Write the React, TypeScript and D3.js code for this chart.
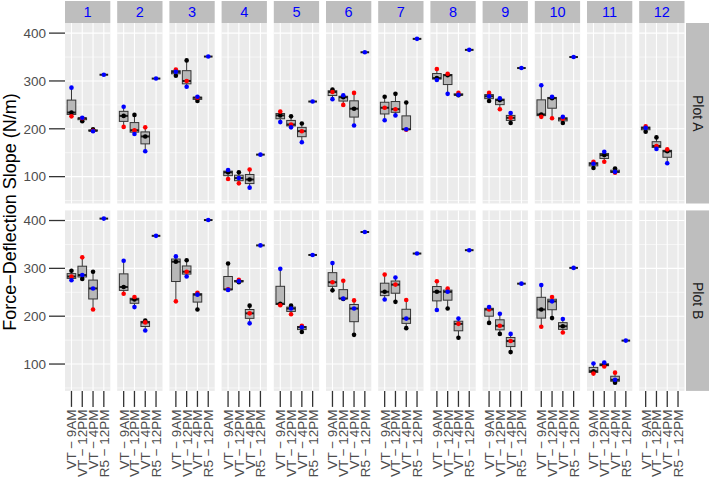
import React from 'react';
import * as d3 from 'd3';

const sites = ['1', '2', '3', '4', '5', '6', '7', '8', '9', '10', '11', '12'];
const rows = ['Plot A', 'Plot B'];
const times = ['VT − 9AM', 'VT − 12PM', 'VT − 4PM', 'R5 − 12PM'];
const yTicks = [100, 200, 300, 400];
const yMinor = [50, 150, 250, 350];

// values for [VT-9AM, VT-12PM, VT-4PM] per site
const plotABlack = [[234, 216, 199], [227, 229, 184], [311, 343, 258], [109, 109, 94], [228, 226, 211], [282, 266, 242], [267, 273, 255], [306, 312, 270], [258, 260, 212], [230, 264, 212], [118, 145, 117], [194, 182, 153]];
const plotARed = [[226, 222, 196], [204, 197, 203], [324, 300, 265], [95, 86, 115], [236, 209, 195], [277, 250, 275], [244, 241, 198], [325, 315, 275], [275, 241, 223], [225, 222, 221], [131, 131, 108], [205, 164, 157]];
const plotABlue = [[286, 223, 195], [246, 189, 153], [319, 288, 267], [114, 97, 77], [214, 203, 172], [262, 270, 207], [218, 228, 199], [302, 273, 271], [268, 264, 233], [291, 267, 225], [127, 152, 110], [202, 158, 128]];
const plotAR5 = [313, 305, 351, 146, 257, 360, 388, 365, 327, 350, null, null];

const plotBBlack = [[295, 278, 293], [261, 235, 191], [314, 317, 214], [310, 271, 222], [226, 222, 167], [254, 236, 161], [251, 230, 175], [251, 216, 155], [186, 163, 125], [214, 196, 179], [85, 98, 61], null];
const plotBRed = [[283, 323, 214], [247, 240, 187], [231, 293, 249], [256, 276, 206], [223, 204, 180], [271, 274, 233], [287, 266, 234], [273, 258, 184], [214, 180, 148], [178, 240, 166], [80, 95, 82], null];
const plotBBlue = [[275, 286, 258], [316, 219, 170], [325, 283, 245], [255, 273, 185], [299, 216, 177], [311, 237, 216], [235, 281, 195], [213, 251, 195], [219, 205, 163], [265, 231, 194], [101, 103, 67], null];
const plotBR5 = [404, 368, 401, 348, 328, 376, 331, 338, 268, 301, 149, null];

const blackSets = [plotABlack, plotBBlack];
const redSets = [plotARed, plotBRed];
const blueSets = [plotABlue, plotBBlue];
const r5Sets = [plotAR5, plotBR5];

const W = 709;
const H = 480;
const panelLeft = 65;
const panelW = 45.3;
const gapX = 6.9;
const stripTop = 1;
const stripH = 22;
const panelTop = 23;
const panelH = 180.5;
const gapY = 6.9;
const rightStripX = 686;
const rightStripW = 23;
const FONT = 'Liberation Sans, Arial, Helvetica, sans-serif';

type Group = { time: string; black?: number; red?: number; blue?: number; vals: number[] };

function buildGroups(r: number, s: number): Group[] {
  const out: Group[] = [];
  const bk = blackSets[r][s];
  const rd = redSets[r][s];
  const bl = blueSets[r][s];
  if (bk && rd && bl) {
    for (let t = 0; t < 3; t++) {
      out.push({ time: times[t], black: bk[t], red: rd[t], blue: bl[t], vals: [bk[t], rd[t], bl[t]] });
    }
  }
  const r5 = r5Sets[r][s];
  if (r5 != null) out.push({ time: times[3], blue: r5, vals: [r5] });
  return out;
}

export default function App() {
  const all: number[] = [];
  rows.forEach((_, r) => sites.forEach((_, s) => buildGroups(r, s).forEach(g => all.push(...g.vals))));
  const lo = d3.min(all) as number;
  const hi = d3.max(all) as number;
  const pad = (hi - lo) * 0.05;
  const y = d3.scaleLinear().domain([lo - pad, hi + pad]).range([panelH, 0]);
  const x = d3.scalePoint<string>().domain(times).range([0, panelW]).padding(0.6);
  const step = x.step();
  const boxW = step * 0.8;

  const px = (s: number) => panelLeft + s * (panelW + gapX);
  const py = (r: number) => panelTop + r * (panelH + gapY);
  const bottomY = py(1) + panelH;

  return (
    <svg width={W} height={H} style={{ position: 'absolute', left: 0, top: 0, background: '#fff' }} fontFamily={FONT}>
      <rect x={0} y={0} width={W} height={H} fill="#fff" />
      {/* top strips */}
      {sites.map((s, i) => (
        <g key={'st' + s}>
          <rect x={px(i)} y={stripTop} width={panelW} height={stripH} fill="#BEBEBE" />
          <text x={px(i) + panelW / 2} y={stripTop + stripH / 2 + 5.2} textAnchor="middle" fontSize={14.5} fill="#0000FF">{s}</text>
        </g>
      ))}
      {/* right strips */}
      {rows.map((rname, r) => (
        <g key={'rs' + rname}>
          <rect x={rightStripX} y={py(r)} width={rightStripW} height={panelH} fill="#BEBEBE" />
          <text transform={`translate(${rightStripX + 7},${py(r) + panelH / 2}) rotate(90)`} textAnchor="middle" fontSize={14} fill="#1A1A1A">{rname}</text>
        </g>
      ))}
      {/* panels */}
      {rows.map((rname, r) => sites.map((sname, s) => {
        const groups = buildGroups(r, s);
        return (
          <g key={rname + sname} transform={`translate(${px(s)},${py(r)})`}>
            <rect x={0} y={0} width={panelW} height={panelH} fill="#EBEBEB" />
            {yMinor.filter(v => y(v) >= 0 && y(v) <= panelH).map(v => (
              <line key={'mn' + v} x1={0} x2={panelW} y1={y(v)} y2={y(v)} stroke="#fff" strokeWidth={0.6} />
            ))}
            {yTicks.map(v => (
              <line key={'mj' + v} x1={0} x2={panelW} y1={y(v)} y2={y(v)} stroke="#fff" strokeWidth={1.1} />
            ))}
            {times.map(t => (
              <line key={'vx' + t} x1={x(t)} x2={x(t)} y1={0} y2={panelH} stroke="#fff" strokeWidth={1.1} />
            ))}
            {groups.map(g => {
              const sorted = [...g.vals].sort(d3.ascending);
              const q1 = d3.quantile(sorted, 0.25) as number;
              const med = d3.quantile(sorted, 0.5) as number;
              const q3 = d3.quantile(sorted, 0.75) as number;
              const mn = sorted[0];
              const mx = sorted[sorted.length - 1];
              const cx = x(g.time) as number;
              return (
                <g key={'b' + g.time}>
                  <line x1={cx} x2={cx} y1={y(mx)} y2={y(q3)} stroke="#333" strokeWidth={1} />
                  <line x1={cx} x2={cx} y1={y(q1)} y2={y(mn)} stroke="#333" strokeWidth={1} />
                  <rect x={cx - boxW / 2} y={y(q3)} width={boxW} height={Math.max(0, y(q1) - y(q3))} fill="#B8B8B8" stroke="#333" strokeWidth={1} />
                  <line x1={cx - boxW / 2} x2={cx + boxW / 2} y1={y(med)} y2={y(med)} stroke="#1A1A1A" strokeWidth={2} />
                </g>
              );
            })}
            {groups.map(g => (
              <g key={'p' + g.time}>
                {g.black != null && <circle cx={x(g.time)} cy={y(g.black)} r={2.3} fill="#000" />}
                {g.red != null && <circle cx={x(g.time)} cy={y(g.red)} r={2.3} fill="#FF0000" />}
                {g.blue != null && <circle cx={x(g.time)} cy={y(g.blue)} r={2.3} fill="#0000FF" />}
              </g>
            ))}
          </g>
        );
      }))}
      {/* y axes */}
      {rows.map((rname, r) => (
        <g key={'ya' + rname}>
          {yTicks.map(v => (
            <g key={v}>
              <line x1={panelLeft - 16} x2={panelLeft} y1={py(r) + y(v)} y2={py(r) + y(v)} stroke="#333" strokeWidth={1.3} />
              <text x={panelLeft - 19} y={py(r) + y(v) + 4.8} textAnchor="end" fontSize={13.5} fill="#4D4D4D">{v}</text>
            </g>
          ))}
        </g>
      ))}
      {/* x axes */}
      {sites.map((sname, s) => (
        <g key={'xa' + sname}>
          {times.map(t => {
            const cx = px(s) + (x(t) as number);
            return (
              <g key={t}>
                <line x1={cx} x2={cx} y1={bottomY} y2={bottomY + 16} stroke="#333" strokeWidth={1.3} />
                <text transform={`translate(${cx + 5},${bottomY + 18.5}) rotate(-90)`} textAnchor="end" fontSize={13.5} fill="#4D4D4D">{t}</text>
              </g>
            );
          })}
        </g>
      ))}
      {/* y title */}
      <text transform={`translate(15.5,212) rotate(-90)`} textAnchor="middle" fontSize={18} fill="#000">Force−Deflection Slope (N/m)</text>
    </svg>
  );
}
